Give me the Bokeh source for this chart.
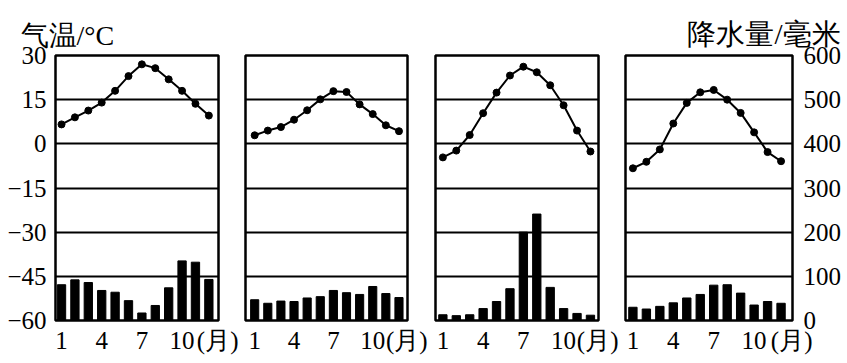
from bokeh.plotting import figure
from bokeh.models import Range1d, LinearAxis, FixedTicker
from bokeh.layouts import row
from bokeh.embed import file_html
from bokeh.resources import INLINE

months = list(range(1, 13))
month_ticks = [1, 4, 7, 10]
month_unit = "(月)"
temp_ticks = [-60, -45, -30, -15, 0, 15, 30]
prec_ticks = [0, 100, 200, 300, 400, 500, 600]
temp_title = "气温/°C"
prec_title = "降水量/毫米"

temp_a = [6.6, 9.0, 11.3, 14.0, 18.0, 23.0, 27.0, 25.7, 21.9, 18.0, 13.6, 9.6]
prec_a = [81, 92, 86, 68, 64, 45, 17, 34, 74, 135, 132, 93]
temp_b = [2.9, 4.5, 5.7, 8.2, 11.4, 15.1, 17.9, 17.6, 13.4, 10.1, 6.3, 4.3]
prec_b = [47, 39, 44, 43, 51, 54, 68, 63, 59, 77, 61, 52]
temp_c = [-4.6, -2.3, 3.0, 10.4, 17.4, 23.2, 26.2, 24.3, 19.9, 13.1, 4.5, -2.6]
prec_c = [13, 11, 13, 27, 43, 72, 200, 241, 75, 27, 16, 12]
temp_d = [-8.3, -6.1, -1.9, 6.9, 13.9, 17.5, 18.3, 15.0, 10.5, 3.9, -2.8, -5.9]
prec_d = [30, 26, 32, 40, 51, 59, 80, 81, 62, 35, 43, 39]

SERIF = "Liberation Serif"
FS = "25px"
H = 358


def minus(v):
    return str(v).replace("-", "\u2212")


def panel(temps, precs, width, bl, br, xr, left_axis=False, right_axis=False):
    p = figure(width=width, height=H, output_backend="svg", toolbar_location=None,
               x_range=Range1d(*xr), y_range=Range1d(-60, 30),
               min_border_left=bl, min_border_right=br, min_border_top=55, min_border_bottom=38,
               x_axis_location=None, y_axis_location=None)
    p.extra_y_ranges = {"precip": Range1d(0, 600)}
    p.background_fill_color = "white"
    p.border_fill_color = "white"
    p.outline_line_color = "black"
    p.outline_line_width = 2.5
    p.xgrid.visible = False
    p.ygrid.ticker = FixedTicker(ticks=[-45, -30, -15, 0, 15])
    p.ygrid.grid_line_color = "black"
    p.ygrid.grid_line_width = 2
    p.ygrid.grid_line_alpha = 1

    p.vbar(x=months, top=precs, width=0.62, bottom=0, y_range_name="precip",
           fill_color="black", line_color="black")
    p.line(months, temps, line_color="black", line_width=2)
    p.scatter(months, temps, size=7, marker="circle", fill_color="black", line_color="black")

    unit_pos = xr[1] - 0.06
    xa = LinearAxis(ticker=FixedTicker(ticks=month_ticks + [unit_pos]))
    xa.major_label_overrides = {unit_pos: month_unit}
    xa.axis_line_color = None
    xa.major_tick_line_color = None
    xa.minor_tick_line_color = None
    xa.major_label_text_font = SERIF
    xa.major_label_text_font_size = FS
    xa.major_label_text_color = "black"
    xa.major_label_standoff = 0
    p.add_layout(xa, "below")

    if left_axis:
        ya = LinearAxis(ticker=FixedTicker(ticks=temp_ticks))
        ya.major_label_overrides = {t: minus(t) for t in temp_ticks}
        ya.axis_line_color = None
        ya.major_tick_line_color = None
        ya.minor_tick_line_color = None
        ya.major_label_text_font = SERIF
        ya.major_label_text_font_size = FS
        ya.major_label_text_color = "black"
        ya.major_label_standoff = 3
        p.add_layout(ya, "left")
    if right_axis:
        ra = LinearAxis(y_range_name="precip", ticker=FixedTicker(ticks=prec_ticks))
        ra.axis_line_color = None
        ra.major_tick_line_color = None
        ra.minor_tick_line_color = None
        ra.major_label_text_font = SERIF
        ra.major_label_text_font_size = FS
        ra.major_label_text_color = "black"
        ra.major_label_standoff = 5
        p.add_layout(ra, "right")
    return p


p1 = panel(temp_a, prec_a, 240, 55, 22, (0.55, 12.72), left_axis=True)
p2 = panel(temp_b, prec_b, 190, 5, 23, (0.3, 12.65))
p3 = panel(temp_c, prec_c, 190, 5, 22, (0.45, 12.6))
p4 = panel(temp_d, prec_d, 227, 5, 55, (0.45, 12.85), right_axis=True)

p1.title.text = temp_title
p1.title.align = "left"
p1.title.offset = -35
p1.title.text_font = SERIF
p1.title.text_font_style = "normal"
p1.title.text_font_size = "28px"
p1.title.text_color = "black"
p1.title.standoff = 9

p4.title.text = prec_title
p4.title.align = "right"
p4.title.offset = -48
p4.title.text_font = SERIF
p4.title.text_font_style = "normal"
p4.title.text_font_size = "29px"
p4.title.text_color = "black"
p4.title.standoff = 12

layout = row(p1, p2, p3, p4)
open("out.html", "w").write(file_html(layout, INLINE))
